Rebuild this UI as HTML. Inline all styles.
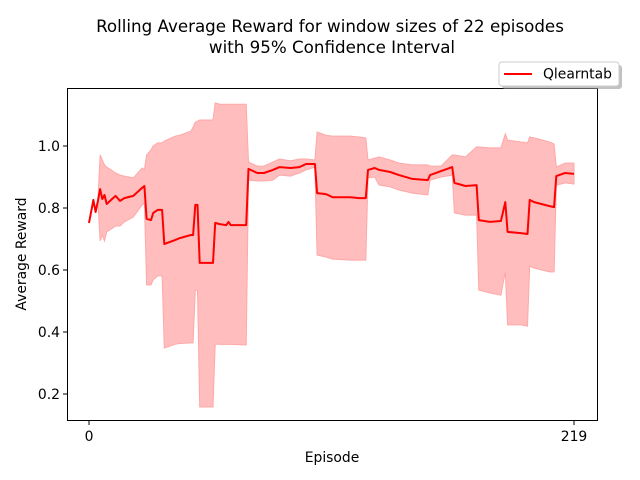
<!DOCTYPE html>
<html><head><meta charset="utf-8"><style>
body{margin:0;background:#fff}
svg{display:block;font-family:"DejaVu Sans","Liberation Sans",sans-serif}
</style></head><body>
<svg id="chart" width="640" height="480" viewBox="0 0 640 480">
<rect width="640" height="480" fill="#fff"/>
<text x="330" y="32" font-size="16.7" text-anchor="middle">Rolling Average Reward for window sizes of 22 episodes</text>
<text x="332" y="53" font-size="16.7" text-anchor="middle">with 95% Confidence Interval</text>
<g id="plot"></g>
<rect x="67.5" y="88.5" width="530" height="332" fill="none" stroke="#000" stroke-width="1"/>
<g id="axes"></g>
<text x="332" y="462" font-size="13.9" text-anchor="middle">Episode</text>
<text transform="translate(26,254) rotate(-90)" font-size="13.9" text-anchor="middle">Average Reward</text>
<g>
<rect x="502" y="65" width="120" height="24" rx="3" fill="#999" opacity="0.6"/>
<rect x="499" y="62" width="120" height="24" rx="3" fill="#fff" stroke="#ccc"/>
<line x1="504" y1="74" x2="532" y2="74" stroke="#f00" stroke-width="2"/>
<text x="543" y="78.5" font-size="13.9">Qlearntab</text>
</g>
</svg>
<script>
const episodes=[0,2,3,4,5,6,7,8,10,12,14,16,20,24,25,26,28,29,31,33,34,39,41,46,47,48,49,50,56,57,59,62,63,64,71,72,76,79,83,86,91,95,98,102,103,107,110,118,122,125,126,129,131,136,140,146,153,154,159,164,165,170,175,176,181,186,188,189,195,198,199,201,208,210,211,215,219];
const meanVals=[0.752,0.826,0.787,0.823,0.861,0.829,0.842,0.813,0.826,0.839,0.823,0.832,0.839,0.865,0.871,0.765,0.761,0.784,0.794,0.794,0.684,0.697,0.703,0.713,0.713,0.81,0.81,0.623,0.623,0.752,0.748,0.745,0.755,0.745,0.745,0.926,0.913,0.913,0.923,0.932,0.929,0.932,0.942,0.942,0.848,0.845,0.835,0.835,0.832,0.832,0.923,0.929,0.923,0.916,0.906,0.894,0.89,0.906,0.919,0.932,0.881,0.871,0.874,0.761,0.755,0.758,0.819,0.723,0.719,0.716,0.826,0.819,0.806,0.803,0.903,0.913,0.910];
const lowerVals=[0.752,0.826,0.787,0.823,0.694,0.713,0.694,0.723,0.732,0.742,0.742,0.755,0.771,0.81,0.816,0.552,0.552,0.568,0.581,0.581,0.348,0.361,0.363,0.365,0.365,0.535,0.535,0.158,0.158,0.361,0.36,0.36,0.36,0.36,0.358,0.89,0.887,0.887,0.89,0.906,0.903,0.913,0.923,0.932,0.648,0.642,0.635,0.632,0.632,0.632,0.897,0.9,0.874,0.868,0.858,0.848,0.842,0.89,0.9,0.906,0.784,0.777,0.777,0.535,0.526,0.519,0.594,0.423,0.423,0.419,0.613,0.606,0.594,0.594,0.874,0.881,0.877];
const upperVals=[0.752,0.826,0.787,0.823,0.971,0.955,0.939,0.932,0.923,0.913,0.906,0.903,0.897,0.929,0.923,0.971,0.987,1.0,1.01,1.01,1.016,1.032,1.035,1.048,1.061,1.077,1.08,1.084,1.084,1.139,1.135,1.135,1.135,1.135,1.135,0.948,0.935,0.935,0.948,0.958,0.952,0.958,0.958,0.955,1.045,1.035,1.032,1.032,1.029,1.026,0.955,0.961,0.965,0.955,0.945,0.939,0.939,0.935,0.935,0.971,0.971,0.965,0.997,0.997,0.994,0.994,1.039,1.019,1.013,1.01,1.029,1.026,1.013,1.006,0.932,0.945,0.945];
const yTicks=[0.2,0.4,0.6,0.8,1.0];
const yTickLabels=["0.2","0.4","0.6","0.8","1.0"];
const xTicks=[0,219];
const xTickLabels=["0","219"];

const NS="http://www.w3.org/2000/svg";
function xs(e){return 89+(e-0)*(574-89)/219;}
function ys(v){return 146+(1-v)*310;}
const plot=document.getElementById('plot');
const axes=document.getElementById('axes');

let up=episodes.map((e,i)=>xs(e).toFixed(1)+','+ys(upperVals[i]).toFixed(1));
let lo=episodes.map((e,i)=>xs(e).toFixed(1)+','+ys(lowerVals[i]).toFixed(1)).reverse();
const band=document.createElementNS(NS,'polygon');
band.setAttribute('points',up.concat(lo).join(' '));
band.setAttribute('fill','#ffbdbd');
band.setAttribute('stroke','#ffa8a8');
band.setAttribute('stroke-width','1');


plot.appendChild(band);

const line=document.createElementNS(NS,'polyline');
line.setAttribute('points',episodes.map((e,i)=>xs(e).toFixed(1)+','+ys(meanVals[i]).toFixed(1)).join(' '));
line.setAttribute('fill','none');
line.setAttribute('stroke','#f00');
line.setAttribute('stroke-width','2');
line.setAttribute('stroke-linejoin','round');


plot.appendChild(line);

yTicks.forEach((v,i)=>{
  const y=ys(v);
  const t=document.createElementNS(NS,'line');
  t.setAttribute('x1',63);t.setAttribute('x2',67);t.setAttribute('y1',y);t.setAttribute('y2',y);
  t.setAttribute('stroke','#000');
  
  
  axes.appendChild(t);
  const l=document.createElementNS(NS,'text');
  l.setAttribute('x',60);l.setAttribute('y',y+5);
  l.setAttribute('font-size','13.9');l.setAttribute('text-anchor','end');
  l.textContent=yTickLabels[i];
  
  
  axes.appendChild(l);
});
xTicks.forEach((e,i)=>{
  const x=xs(e);
  const t=document.createElementNS(NS,'line');
  t.setAttribute('x1',x);t.setAttribute('x2',x);t.setAttribute('y1',421);t.setAttribute('y2',425);
  t.setAttribute('stroke','#000');
  
  
  axes.appendChild(t);
  const l=document.createElementNS(NS,'text');
  l.setAttribute('x',x);l.setAttribute('y',441);
  l.setAttribute('font-size','13.9');l.setAttribute('text-anchor','middle');
  l.textContent=xTickLabels[i];
  
  
  axes.appendChild(l);
});
</script>
</body></html>
